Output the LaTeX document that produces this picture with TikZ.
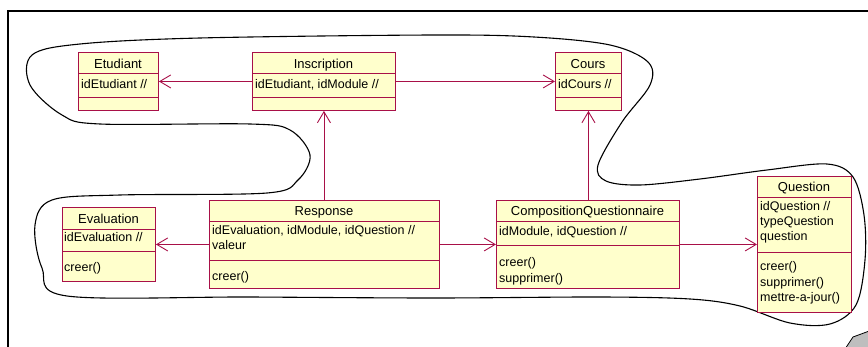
\documentclass[tikz,border=0pt]{standalone}
\usepackage{fontspec}
\setmainfont{Liberation Sans}
\usepackage{tikz}
\usetikzlibrary{arrows.meta}
\definecolor{Maroon}{RGB}{168,16,72}
\definecolor{Cream}{RGB}{255,255,204}
\definecolor{NoteGray}{RGB}{190,190,190}

\tikzset{
  classbox/.style={draw=Maroon,fill=Cream,line width=0.9pt,inner sep=0pt,
                   anchor=north west},
  sepline/.style={draw=Maroon,line width=0.9pt},
  ctitle/.style={font=\fontsize{13}{15}\selectfont,inner sep=0pt,anchor=base},
  ctext/.style={font=\fontsize{12.5}{15.4}\selectfont,inner sep=0pt,
                anchor=north west,align=left},
  assoc/.style={draw=Maroon,line width=0.9pt,
                -{Straight Barb[length=11pt,width=13pt]}},
}

\begin{document}
\begin{tikzpicture}[x=1pt,y=-1pt]
  \useasboundingbox (0,0) rectangle (868,347);
  \clip (0,0) rectangle (868,347);

  % frame of the diagram
  \draw[line width=1.3pt] (8,360) -- (8,11) -- (880,11);

  % package outline
  \draw[line width=1.1pt] plot[smooth cycle,tension=0.55] coordinates {
    (434,35) (534,37) (610,45) (648,62) (650,85) (622,122) (598,165)
    (606,181) (640,185) (700,179) (767,170) (827,164) (853,177) (864,215)
    (865,260) (856,305) (830,324) (790,323) (740,306) (690,299) (600,297)
    (434,298) (250,297) (67,296) (42,268) (35,225) (52,200) (120,195)
    (267,193) (298,180) (310,155) (290,130) (250,124) (100,124) (62,115)
    (30,85) (32,55) (80,44) (200,38)};

  % classes
  \node[classbox,minimum width=80,minimum height=58] (etudiant) at (78,52) {};
  \draw[sepline] (78,73) -- (158,73) (78,97) -- (158,97);
  \node[ctitle] (etudiant-t) at (118,69) {Etudiant};
  \node[ctext] (etudiant-a) at (81,77.2) {\strut idEtudiant //};

  \node[classbox,minimum width=143,minimum height=58] (inscription) at (252,52) {};
  \draw[sepline] (252,73) -- (395,73) (252,97) -- (395,97);
  \node[ctitle] (inscription-t) at (323.5,69) {Inscription};
  \node[ctext] (inscription-a) at (255,77.2) {\strut idEtudiant, idModule //};

  \node[classbox,minimum width=66,minimum height=58] (cours) at (555,52) {};
  \draw[sepline] (555,73) -- (621,73) (555,97) -- (621,97);
  \node[ctitle] (cours-t) at (588,69) {Cours};
  \node[ctext] (cours-a) at (558,77.7) {\strut idCours //};

  \node[classbox,minimum width=93,minimum height=74] (evaluation) at (62,207) {};
  \draw[sepline] (62,229) -- (155,229) (62,251) -- (155,251);
  \node[ctitle] (evaluation-t) at (108.5,224) {Evaluation};
  \node[ctext] (evaluation-a) at (64,230.7) {\strut idEvaluation //};
  \node[ctext] (evaluation-o) at (64,260.7) {\strut creer()};

  \node[classbox,minimum width=230,minimum height=88] (response) at (209,200) {};
  \draw[sepline] (209,221) -- (439,221) (209,260) -- (439,260);
  \node[ctitle] (response-t) at (324,216) {Response};
  \node[ctext] (response-a) at (212,223.2)
    {\strut idEvaluation, idModule, idQuestion //\\valeur};
  \node[ctext] (response-o) at (212,269.2) {\strut creer()};

  \node[classbox,minimum width=183,minimum height=88] (compo) at (496,200) {};
  \draw[sepline] (496,221) -- (679,221) (496,245) -- (679,245);
  \node[ctitle] (compo-t) at (587.5,215.7) {CompositionQuestionnaire};
  \node[ctext] (compo-a) at (499,224.2) {\strut idModule, idQuestion //};
  \node[ctext] (compo-o) at (499,255.7) {\strut creer()\\supprimer()};

  \node[classbox,minimum width=94,minimum height=136] (question) at (757,176) {};
  \draw[sepline] (757,197) -- (851,197) (757,252) -- (851,252);
  \node[ctitle] (question-t) at (804,191.5) {Question};
  \node[ctext] (question-a) at (760,199.2)
    {\strut idQuestion //\\typeQuestion\\question};
  \node[ctext] (question-o) at (760,259.7)
    {\strut creer()\\supprimer()\\mettre-a-jour()};

  % associations
  \draw[assoc] (inscription.west) -- (etudiant.east);
  \draw[assoc] (inscription.east) -- (cours.west);
  \draw[assoc] (inscription.south |- response.north) -- (inscription.south);
  \draw[assoc] (cours.south |- compo.north) -- (cours.south);
  \draw[assoc] (response.west) -- (evaluation.east);
  \draw[assoc] (response.east) -- (compo.west);
  \draw[assoc] (compo.east) -- (question.west);

  % corner of a note, cut by the border
  \filldraw[fill=NoteGray,draw=black,line width=0.8pt]
    (845,349) -- (853,337) -- (872,330) -- (872,349) -- cycle;
\end{tikzpicture}
\end{document}
